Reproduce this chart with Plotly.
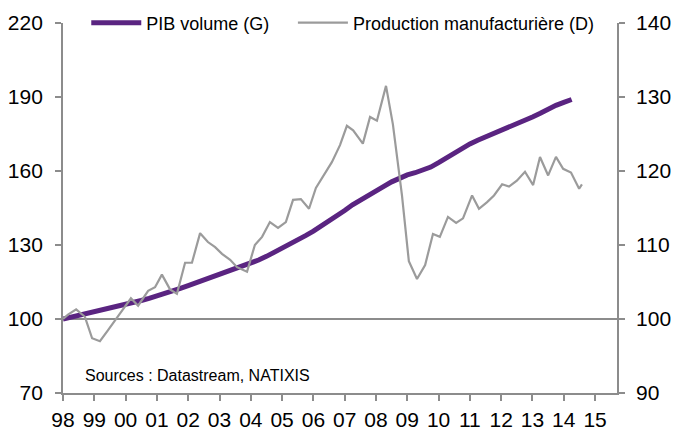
import plotly.graph_objects as go

# ---- data ----
pib_start_year = 1998.0
pib_step = 0.25
pib_volume = [
    100.0, 100.7, 101.4, 102.1,
    102.8, 103.5, 104.3, 105.0,
    105.8, 106.6, 107.5, 108.4,
    109.3, 110.3, 111.3, 112.4,
    113.5, 114.6, 115.7, 116.9,
    118.0, 119.0, 120.1, 121.2,
    122.5, 123.9, 125.4, 127.0,
    128.7, 130.3, 132.0, 133.8,
    135.6, 137.6, 139.7, 141.8,
    144.0, 146.3, 148.3, 150.1,
    151.9, 153.8, 155.6, 157.2,
    158.4, 159.3, 160.3, 161.6,
    163.4, 165.3, 167.3, 169.3,
    171.0, 172.5, 173.8, 175.0,
    176.3, 177.6, 179.0, 180.4,
    181.9, 183.4, 185.1, 186.6,
    187.8, 189.0,
]
pib_years = [pib_start_year + pib_step * i for i in range(len(pib_volume))]

manuf_years = [
    1998.00, 1998.16, 1998.42, 1998.70, 1998.93, 1999.18, 1999.44, 1999.76,
    1999.95, 2000.17, 2000.40, 2000.72, 2000.94, 2001.16, 2001.42, 2001.64,
    2001.90, 2002.12, 2002.38, 2002.63, 2002.86, 2003.08, 2003.34, 2003.56,
    2003.88, 2004.13, 2004.36, 2004.61, 2004.87, 2005.12, 2005.35, 2005.60,
    2005.86, 2006.08, 2006.31, 2006.59, 2006.85, 2007.07, 2007.27, 2007.58,
    2007.81, 2008.03, 2008.32, 2008.54, 2008.83, 2009.05, 2009.31, 2009.57,
    2009.82, 2010.04, 2010.30, 2010.56, 2010.78, 2011.07, 2011.29, 2011.55,
    2011.77, 2012.03, 2012.25, 2012.50, 2012.76, 2013.02, 2013.24, 2013.50,
    2013.75, 2013.98, 2014.23, 2014.49, 2014.58,
]
manuf_values = [
    100.0, 100.6, 101.3, 100.3, 97.4, 97.0, 98.5, 100.3,
    101.5, 102.8, 101.8, 103.8, 104.3, 106.0, 104.0, 103.4,
    107.6, 107.6, 111.6, 110.4, 109.7, 108.8, 108.0, 107.0,
    106.4, 110.0, 111.1, 113.1, 112.3, 113.1, 116.1, 116.2,
    114.9, 117.7, 119.3, 121.2, 123.5, 126.1, 125.5, 123.7,
    127.3, 126.8, 131.5, 126.3, 116.7, 107.8, 105.4, 107.3,
    111.5, 111.1, 113.8, 113.0, 113.6, 116.7, 114.9, 115.8,
    116.7, 118.2, 117.9, 118.7, 119.9, 118.1, 121.9, 119.4,
    121.9, 120.3, 119.8, 117.6, 118.2,
]

year_ticks = list(range(1998, 2016))
year_labels = ["98", "99", "00", "01", "02", "03", "04", "05", "06",
               "07", "08", "09", "10", "11", "12", "13", "14", "15"]
left_ticks = [70, 100, 130, 160, 190, 220]
right_ticks = [90, 100, 110, 120, 130, 140]
reference_level = 100

names = ["PIB volume (G)", "Production manufacturière (D)"]
source_text = "Sources : Datastream, NATIXIS"

# ---- styles ----
PURPLE = "#5a2481"
GREY = "#9b9b9b"
AXIS = "#8c8c8c"
FONT = "Liberation Sans, Arial, sans-serif"

fig = go.Figure()
fig.add_trace(go.Scatter(
    x=pib_years, y=pib_volume, name=names[0], mode="lines",
    line=dict(color=PURPLE, width=5), yaxis="y", legend="legend",
))
fig.add_trace(go.Scatter(
    x=manuf_years, y=manuf_values, name=names[1], mode="lines",
    line=dict(color=GREY, width=2.2), yaxis="y2", legend="legend2",
))

fig.add_shape(type="line", xref="paper", x0=0, x1=1, yref="y",
              y0=reference_level, y1=reference_level,
              line=dict(color=AXIS, width=1.8), layer="below")

fig.add_annotation(text=source_text, xref="paper", yref="paper",
                   x=0.036, y=0.046, xanchor="left", yanchor="middle",
                   showarrow=False, font=dict(size=16, color="black", family=FONT))

axis_common = dict(showline=True, linecolor=AXIS, linewidth=1.8, ticks="outside",
                   ticklen=6, tickcolor=AXIS, tickwidth=1.5, showgrid=False,
                   zeroline=False, tickfont=dict(size=21, color="black", family=FONT))

legend_common = dict(orientation="h", xanchor="left", y=1.0, yanchor="middle",
                     font=dict(size=18, color="black", family=FONT),
                     bgcolor="rgba(0,0,0,0)", itemwidth=50)

fig.update_layout(
    width=673, height=430,
    margin=dict(l=63, r=56, t=23, b=37, autoexpand=False),
    paper_bgcolor="white", plot_bgcolor="white",
    font=dict(family=FONT, color="black"),
    showlegend=True,
    legend=dict(x=0.042, **legend_common),
    legend2=dict(x=0.415, **legend_common),
    xaxis=dict(range=[1998, 2015.7], tickvals=year_ticks, ticktext=year_labels,
               ticklabelstandoff=1, **axis_common),
    yaxis=dict(range=[70, 220], tickvals=left_ticks, ticklabelstandoff=8, **axis_common),
    yaxis2=dict(range=[90, 140], tickvals=right_ticks, overlaying="y", side="right",
                ticklabelstandoff=7, **axis_common),
)

fig.write_html("out.html", config={"displayModeBar": False},
               post_script="document.body.style.margin='0';document.body.style.overflow='hidden';")
